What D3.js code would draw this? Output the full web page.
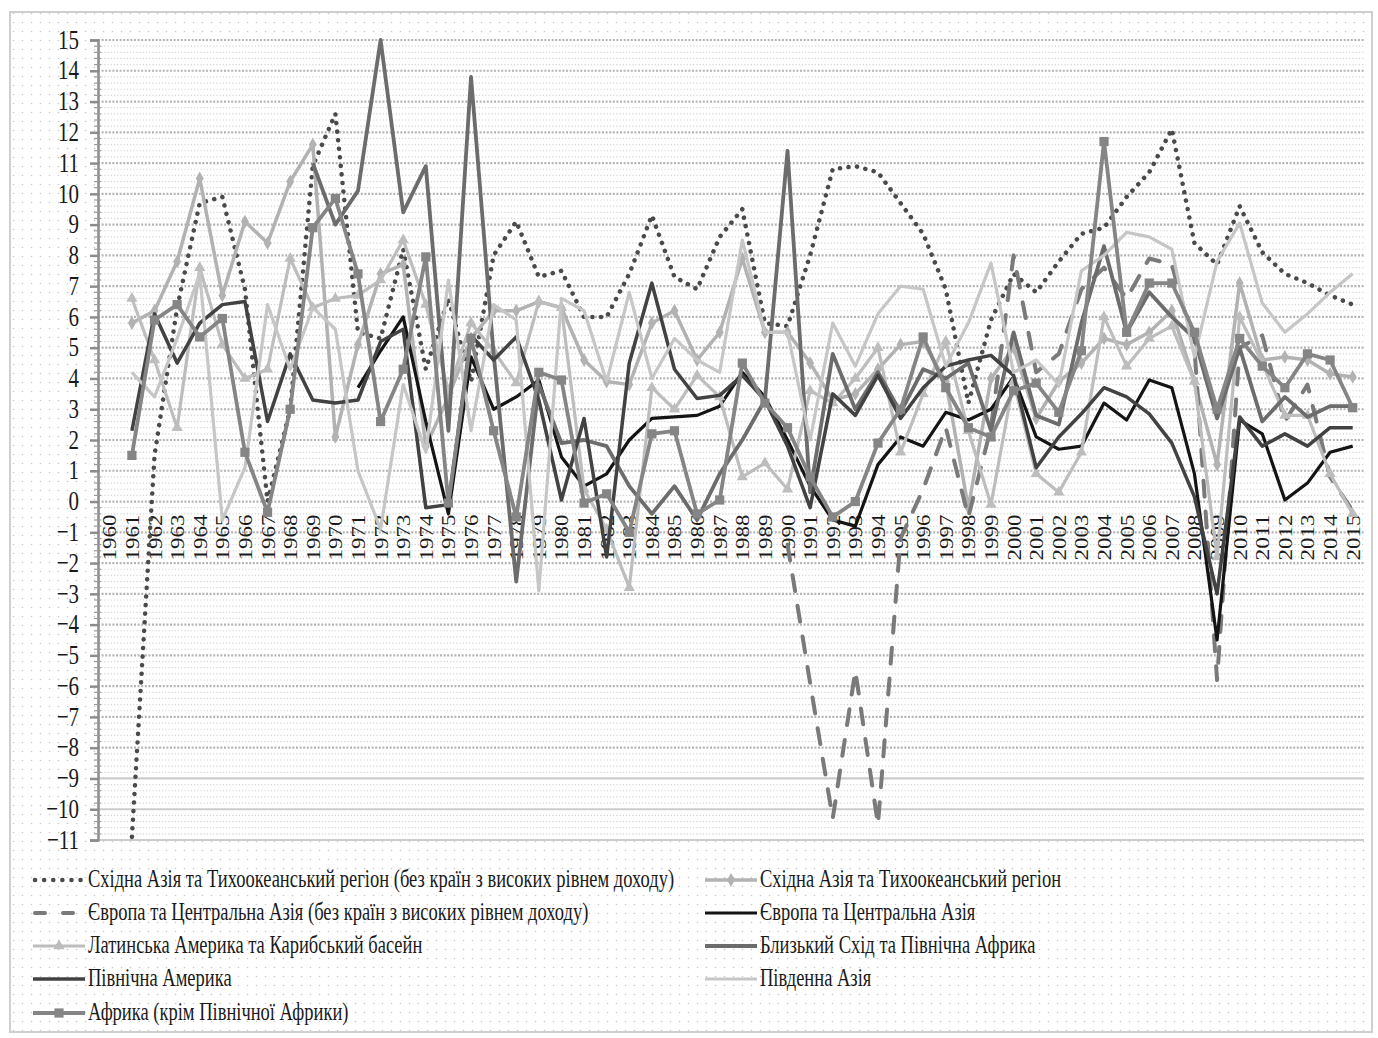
<!DOCTYPE html>
<html>
<head>
<meta charset="utf-8">
<script src="https://cdn.jsdelivr.net/npm/d3@7"></script>
<style>
body { margin: 0; background: #fff; }
text { font-family: "Liberation Serif", "Times New Roman", serif; fill: #1a1a1a; }
</style>
</head>
<body>
<svg id="chart" width="1378" height="1038"></svg>
<script>
// years on the category axis
var years = [1960, 1961, 1962, 1963, 1964, 1965, 1966, 1967, 1968, 1969,
  1970, 1971, 1972, 1973, 1974, 1975, 1976, 1977, 1978, 1979,
  1980, 1981, 1982, 1983, 1984, 1985, 1986, 1987, 1988, 1989,
  1990, 1991, 1992, 1993, 1994, 1995, 1996, 1997, 1998, 1999,
  2000, 2001, 2002, 2003, 2004, 2005, 2006, 2007, 2008, 2009,
  2010, 2011, 2012, 2013, 2014, 2015];

var yTicks = [-11, -10, -9, -8, -7, -6, -5, -4, -3, -2, -1, 0, 1, 2, 3, 4, 5, 6, 7, 8, 9, 10, 11, 12, 13, 14, 15];

// GDP growth, % (1960 .. 2015)
var eapDev = [null, -10.9, 1.5, 6.3, 9.7, 9.9, 6.9, 0.0, 3.0, 10.9,
  12.6, 5.5, 5.3, 8.2, 4.3, 6.6, 3.9, 8.0, 9.1, 7.3,
  7.5, 6.0, 6.0, 7.4, 9.3, 7.3, 6.9, 8.6, 9.5, 5.8,
  5.7, 8.0, 10.8, 10.9, 10.7, 9.7, 8.7, 6.9, 3.2, 5.9,
  7.4, 6.8, 7.8, 8.7, 8.9, 9.9, 10.7, 12.1, 8.4, 7.7,
  9.6, 8.1, 7.4, 7.1, 6.7, 6.4];

var eap = [null, 5.8, 6.2, 7.8, 10.5, 6.7, 9.1, 8.4, 10.4, 11.6,
  2.1, 5.1, 7.4, 7.7, 1.8, 3.4, 5.3, 6.2, 6.2, 6.5,
  6.3, 4.6, 3.9, 3.8, 5.8, 6.2, 4.6, 5.5, 7.9, 5.5,
  5.5, 4.5, 3.3, 3.5, 4.3, 5.1, 5.2, 3.9, -0.2, 4.0,
  5.0, 2.7, 3.9, 4.5, 5.3, 5.1, 5.5, 6.2, 3.9, 1.2,
  7.1, 4.6, 4.7, 4.6, 4.15, 4.05];

var ecaDev = [null, null, null, null, null, null, null, null, null, null,
  null, null, null, null, null, null, null, null, null, null,
  null, null, null, null, null, null, null, null, null, null,
  -1.4, -5.9, -10.3, -5.5, -10.5, -1.2, 0.4, 2.4, -0.5, 2.4,
  8.0, 4.2, 4.8, 6.9, 7.6, 6.6, 7.9, 7.7, 5.0, -5.8,
  5.0, 5.4, 2.6, 3.8, 0.8, -0.3];

var eca = [null, null, null, null, null, null, null, null, null, null,
  null, 3.7, 4.9, 6.0, 2.6, -0.4, 4.7, 3.0, 3.4, 3.95,
  1.45, 0.5, 0.9, 2.0, 2.7, 2.75, 2.8, 3.1, 4.2, 3.4,
  2.0, 0.5, -0.6, -0.8, 1.2, 2.1, 1.8, 2.9, 2.65, 3.0,
  4.05, 2.1, 1.7, 1.8, 3.2, 2.65, 3.95, 3.7, 0.9, -4.5,
  2.65, 2.2, 0.05, 0.6, 1.6, 1.8];

var latAm = [null, 6.6, 4.6, 2.4, 7.6, 5.1, 4.0, 4.3, 7.9, 6.3,
  6.6, 6.7, 7.2, 8.5, 6.4, 3.6, 5.8, 4.9, 3.85, 6.5,
  6.3, 0.4, -0.9, -2.8, 3.7, 3.0, 4.1, 3.4, 0.8, 1.25,
  0.4, 3.6, 3.2, 4.0, 5.0, 1.6, 3.5, 5.2, 2.3, -0.1,
  3.9, 0.9, 0.3, 1.6, 6.0, 4.4, 5.3, 5.7, 3.9, -1.8,
  6.0, 4.5, 2.8, 2.8, 0.9, -0.4];

var mena = [null, null, null, null, null, null, null, null, null, 11.0,
  9.0, 10.1, 15.0, 9.4, 10.9, 2.3, 13.8, 4.8, -2.6, 3.8,
  1.9, 2.0, 1.8, 0.5, -0.4, 0.5, -0.6, 0.9, 2.0, 3.3,
  11.4, 0.3, 4.8, 3.0, 4.2, 2.9, 4.3, 4.0, 4.5, 2.3,
  5.5, 2.8, 2.5, 5.8, 8.3, 5.5, 6.8, 6.0, 5.3, 2.7,
  5.0, 2.6, 3.4, 2.75, 3.1, 3.1];

var nAm = [null, 2.3, 6.1, 4.5, 5.8, 6.4, 6.5, 2.6, 4.8, 3.3,
  3.2, 3.3, 5.2, 5.6, -0.2, -0.1, 5.4, 4.6, 5.35, 3.3,
  0.05, 2.7, -1.8, 4.5, 7.1, 4.3, 3.35, 3.45, 4.1, 3.3,
  1.8, -0.2, 3.5, 2.8, 4.1, 2.7, 3.7, 4.4, 4.6, 4.75,
  4.1, 1.1, 2.1, 2.85, 3.7, 3.4, 2.85, 1.9, 0.15, -3.0,
  2.75, 1.8, 2.2, 1.8, 2.4, 2.4];

var sAsia = [null, 4.2, 3.4, 5.3, 7.4, -0.6, 1.1, 6.4, 4.3, 6.3,
  5.6, 1.0, -0.9, 3.8, 1.6, 7.2, 2.3, 6.4, 5.9, -2.9,
  6.6, 6.2, 3.9, 6.8, 4.0, 5.3, 4.6, 4.2, 8.5, 5.5,
  5.5, 2.0, 5.8, 4.4, 6.1, 7.0, 6.9, 4.4, 5.8, 7.75,
  4.2, 4.6, 3.8, 7.5, 8.0, 8.75, 8.6, 8.2, 4.7, 7.8,
  9.05, 6.45, 5.5, 6.1, 6.8, 7.4];

var africa = [null, 1.5, 5.9, 6.4, 5.35, 5.95, 1.6, -0.35, 3.0, 8.9,
  9.85, 7.4, 2.6, 4.3, 7.95, -0.05, 5.3, 2.3, -0.5, 4.2,
  3.95, -0.05, 0.25, -1.0, 2.2, 2.3, -0.4, 0.05, 4.5, 3.2,
  2.4, 0.8, -0.5, 0.0, 1.9, 3.0, 5.35, 3.7, 2.4, 2.1,
  3.6, 3.85, 2.9, 4.9, 11.7, 5.5, 7.1, 7.1, 5.5, 3.0,
  5.3, 4.4, 3.7, 4.8, 4.6, 3.05];

var seriesNames = [
  "Східна Азія та Тихоокеанський регіон (без країн з високих рівнем доходу)",
  "Східна Азія та Тихоокеанський регіон",
  "Європа та Центральна Азія (без країн з високих рівнем доходу)",
  "Європа та Центральна Азія",
  "Латинська Америка  та Карибський басейн",
  "Близький Схід та Північна Африка",
  "Північна Америка",
  "Південна Азія",
  "Африка (крім Північної Африки)"
];

// drawing styles, same order as the names
var series = [
  { name: seriesNames[0], values: eapDev, color: "#4a4a4a", width: 4.5, dash: "0.1,8.5", legDash: "0.1,9", cap: "round", marker: null },
  { name: seriesNames[1], values: eap, color: "#b2b2b2", width: 3.5, dash: null, cap: "butt", marker: d3.symbolDiamond, mSize: 55 },
  { name: seriesNames[2], values: ecaDev, color: "#7a7a7a", width: 4, dash: "16,15", legDash: "10,18", cap: "round", marker: null },
  { name: seriesNames[3], values: eca, color: "#141414", width: 3.2, dash: null, cap: "butt", marker: null },
  { name: seriesNames[4], values: latAm, color: "#bdbdbd", width: 3.2, dash: null, cap: "butt", marker: d3.symbolTriangle, mSize: 55 },
  { name: seriesNames[5], values: mena, color: "#6c6c6c", width: 3.8, dash: null, cap: "butt", marker: null },
  { name: seriesNames[6], values: nAm, color: "#424242", width: 3.5, dash: null, cap: "butt", marker: null },
  { name: seriesNames[7], values: sAsia, color: "#c6c6c6", width: 3.2, dash: null, cap: "butt", marker: null },
  { name: seriesNames[8], values: africa, color: "#858585", width: 3.8, dash: null, cap: "butt", marker: d3.symbolSquare, mSize: 85 }
];

var svg = d3.select('svg#chart');

var defs = svg.append('defs');
var pat = defs.append('pattern').attr('id', 'dots')
  .attr('width', 9).attr('height', 9).attr('patternUnits', 'userSpaceOnUse');
pat.append('circle').attr('cx', 4.5).attr('cy', 4.5).attr('r', 0.8).attr('fill', '#c9c9c9');

// outer frame
svg.append('rect')
  .attr('x', 10).attr('y', 12).attr('width', 1362).attr('height', 1020)
  .attr('fill', 'url(#dots)')
  .attr('stroke', '#cfcfcf').attr('stroke-width', 2);

var x = d3.scalePoint().domain(years).range([98, 1364]).padding(0.5);
var y = d3.scaleLinear().domain([-11, 15]).range([840, 40]);

// plot background + grid
svg.append('rect').attr('x', 98).attr('y', 40).attr('width', 1266).attr('height', 800).attr('fill', '#fff');

var minor = d3.range(-110, 151, 2).map(v => v / 10).filter(v => Math.round(v * 10) % 10 != 0);
svg.append('g').selectAll('line').data(minor).enter().append('line')
  .attr('x1', 98).attr('x2', 1364)
  .attr('y1', d => y(d)).attr('y2', d => y(d))
  .attr('stroke', '#d4d4d4').attr('stroke-width', 1.2)
  .attr('stroke-dasharray', '1.2,2');

svg.append('g').selectAll('line').data(yTicks).enter().append('line')
  .attr('x1', 98).attr('x2', 1364)
  .attr('y1', d => y(d)).attr('y2', d => y(d))
  .attr('stroke', d => d <= -9 ? '#cccccc' : '#b4b4b4').attr('stroke-width', 2.2)
  .attr('stroke-dasharray', d => d <= -9 ? null : '2,1.6');

// y axis
var yAxis = svg.append('g').attr('transform', 'translate(98,0)')
  .call(d3.axisLeft(y).tickValues(yTicks).tickSize(8).tickPadding(11).tickFormat(d3.format('d')));
yAxis.select('.domain').attr('stroke', '#8c8c8c').attr('stroke-width', 2.5);
yAxis.selectAll('.tick line').attr('stroke', '#8c8c8c').attr('stroke-width', 2.5);
yAxis.selectAll('.tick text')
  .attr('font-size', 21)
  .attr('fill', '#1a1a1a')
  .attr('font-family', '"Liberation Serif", serif')
  .attr('y', 0)
  .attr('dy', '0.3em')
  .attr('transform', 'scale(1,1.3)');

// minor ticks on the y axis
svg.append('g').selectAll('line').data(minor).enter().append('line')
  .attr('x1', 94).attr('x2', 101)
  .attr('y1', d => y(d)).attr('y2', d => y(d))
  .attr('stroke', '#9a9a9a').attr('stroke-width', 1.2);

// x axis labels (rotated) just under the zero line
var xAxis = svg.append('g').attr('transform', 'translate(0,' + y(0) + ')')
  .call(d3.axisBottom(x).tickSize(0).tickFormat(d3.format('d')));
xAxis.select('.domain').remove();
xAxis.selectAll('.tick text')
  .attr('font-size', 18)
  .attr('fill', '#1a1a1a')
  .attr('font-family', '"Liberation Serif", serif')
  .attr('transform', 'rotate(-90)')
  .attr('x', -13).attr('y', 0).attr('dy', '0.36em')
  .attr('textLength', 46).attr('lengthAdjust', 'spacingAndGlyphs')
  .style('text-anchor', 'end');

// lines
var line = d3.line()
  .defined(d => d != null)
  .x((d, i) => x(years[i]))
  .y(d => y(d));

var gLines = svg.append('g');
series.forEach(function (s) {
  gLines.append('path')
    .attr('d', line(s.values))
    .attr('fill', 'none')
    .attr('stroke', s.color)
    .attr('stroke-width', s.width)
    .attr('stroke-linejoin', 'round')
    .attr('stroke-linecap', s.cap)
    .attr('stroke-dasharray', s.dash);
  if (s.marker) {
    var pts = s.values.map((v, i) => ({ v: v, yr: years[i] })).filter(p => p.v != null);
    gLines.append('g').selectAll('path').data(pts).enter().append('path')
      .attr('d', d3.symbol().type(s.marker).size(s.mSize))
      .attr('transform', d => 'translate(' + x(d.yr) + ',' + y(d.v) + ')')
      .attr('fill', s.color);
  }
});

// legend, two columns
var legendPos = [
  [33, 880], [705, 880],
  [33, 913], [705, 913],
  [33, 946], [705, 946],
  [33, 979], [705, 979],
  [33, 1013]
];
var gLeg = svg.append('g');
series.forEach(function (s, i) {
  var g = gLeg.append('g').attr('transform', 'translate(' + legendPos[i][0] + ',' + legendPos[i][1] + ')');
  g.append('line')
    .attr('x1', s.dash ? 2 : 0).attr('x2', 52).attr('y1', 0).attr('y2', 0)
    .attr('stroke', s.color).attr('stroke-width', s.width)
    .attr('stroke-linecap', s.cap)
    .attr('stroke-dasharray', s.legDash || null);
  if (s.marker) {
    g.append('path').attr('d', d3.symbol().type(s.marker).size(s.mSize))
      .attr('transform', 'translate(26,0)').attr('fill', s.color);
  }
  g.append('text')
    .attr('x', 55).attr('y', 0)
    .attr('dy', '0.3em')
    .attr('font-size', 18.5)
    .attr('transform', 'scale(1,1.35)')
    .text(s.name);
});
</script>
</body>
</html>
